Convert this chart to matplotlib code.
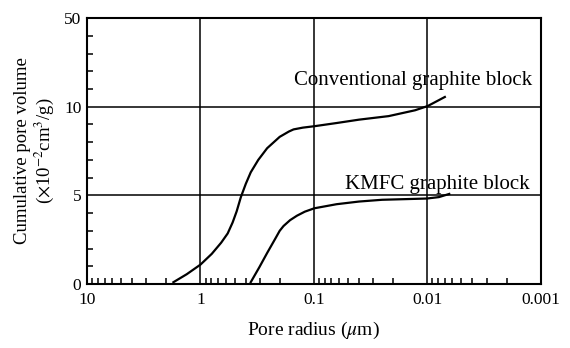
import matplotlib
matplotlib.use("Agg")
import matplotlib.pyplot as plt
from matplotlib.ticker import FixedLocator, NullFormatter

plt.rcParams["font.family"] = ["Liberation Serif", "DejaVu Serif"]
plt.rcParams["mathtext.fontset"] = "stix"

# pore radius (um) and cumulative pore volume (x10^-2 cm3/g)
conv_radius = [1.73, 1.32, 1.0, 0.794, 0.656, 0.575, 0.52, 0.479, 0.44, 0.398,
               0.36, 0.309, 0.258, 0.2, 0.166, 0.151, 0.125, 0.099, 0.063,
               0.04, 0.0219, 0.0128, 0.0099, 0.007]
conv_volume = [0.1, 0.55, 1.09, 1.7, 2.33, 2.85, 3.47, 4.1, 4.9, 5.65,
               6.3, 7.0, 7.66, 8.3, 8.6, 8.72, 8.82, 8.9, 9.08,
               9.27, 9.47, 9.8, 10.04, 10.55]

kmfc_radius = [0.36, 0.302, 0.258, 0.219, 0.2, 0.185, 0.162, 0.141, 0.12,
               0.099, 0.063, 0.04, 0.025, 0.0101, 0.0079, 0.0064]
kmfc_volume = [0.1, 0.95, 1.75, 2.55, 3.0, 3.27, 3.6, 3.85, 4.08,
               4.27, 4.5, 4.65, 4.75, 4.82, 4.9, 5.08]

x_ticks = [10, 1, 0.1, 0.01, 0.001]
x_labels = ["10", "1", "0.1", "0.01", "0.001"]
y_ticks = [0, 5, 10, 15]
y_labels = ["0", "5", "10", "50"]

fig = plt.figure(figsize=(5.7, 3.48), dpi=100)
ax = fig.add_axes([0.1526, 0.184, 0.796, 0.764])

ax.set_xscale("log")
ax.set_xlim(10, 0.001)
ax.set_ylim(0, 15)

for v in [1, 0.1, 0.01]:
    ax.axvline(v, color="black", lw=1.1)
for h in [5, 10]:
    ax.axhline(h, color="black", lw=1.1)

ax.plot(conv_radius, conv_volume, color="black", lw=1.6)
ax.plot(kmfc_radius, kmfc_volume, color="black", lw=1.6)

ax.text(0.149, 11.5, "Conventional graphite block", fontsize=15, va="center")
ax.text(0.053, 5.6, "KMFC graphite block", fontsize=15, va="center")

ax.set_xticks(x_ticks)
ax.set_xticklabels(x_labels, fontsize=12.5)
minors = [m * 10.0 ** e for e in range(-3, 1) for m in range(2, 10)]
ax.xaxis.set_minor_locator(FixedLocator(minors))
ax.xaxis.set_minor_formatter(NullFormatter())
ax.set_yticks(y_ticks)
ax.set_yticklabels(y_labels, fontsize=12.5)
ax.yaxis.set_minor_locator(FixedLocator(range(0, 16)))

ax.tick_params(axis="x", which="major", direction="in", length=0, pad=6)
ax.tick_params(axis="y", which="major", direction="in", length=0, pad=4)
ax.tick_params(axis="x", which="minor", direction="in", length=4, width=1.1)
ax.tick_params(axis="y", which="minor", direction="in", length=4, width=1.1)

for s in ax.spines.values():
    s.set_linewidth(1.5)

ax.set_xlabel(r"Pore radius ($\mu$m)", fontsize=14, labelpad=8)
ax.set_ylabel("Cumulative pore volume\n" + r"($\times$10$^{-2}$cm$^3$/g)",
              fontsize=13.5, linespacing=1.05, labelpad=6)

fig.savefig("out.png", dpi=100)
